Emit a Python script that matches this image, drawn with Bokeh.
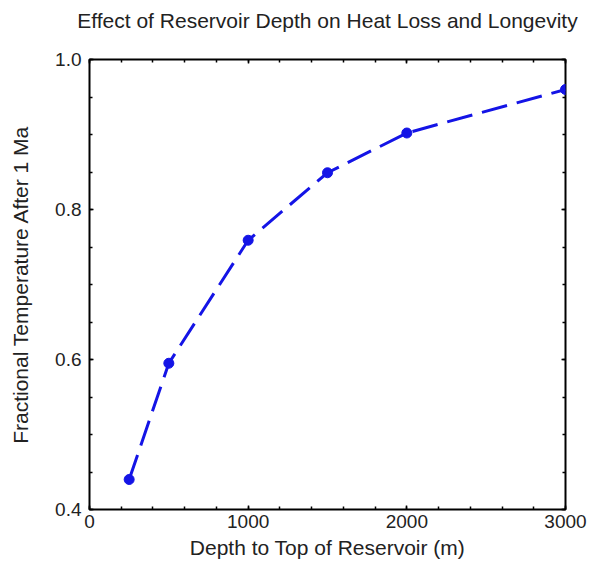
from bokeh.plotting import figure
from bokeh.models import LinearAxis, FixedTicker, Range1d, NumeralTickFormatter, CustomJSTickFormatter
from bokeh.embed import file_html
from bokeh.resources import INLINE

depth = [250, 500, 1000, 1500, 2000, 3000]
frac_temp = [0.44, 0.595, 0.759, 0.849, 0.902, 0.96]

x_major = [0, 1000, 2000, 3000]
x_minor = [200 * i for i in range(16)]
y_major = [0.4, 0.6, 0.8, 1.0]
y_minor = [round(0.4 + 0.05 * i, 2) for i in range(13)]

title_text = "Effect of Reservoir Depth on Heat Loss and Longevity"

FONT = "Liberation Sans"
BLUE = "#1414e6"

p = figure(width=589, height=571, output_backend="svg", toolbar_location=None,
           x_range=Range1d(0, 3000), y_range=Range1d(0.4, 1.0),
           x_axis_location=None, y_axis_location=None,
           min_border_left=89, min_border_right=24, min_border_top=59, min_border_bottom=62)

p.xgrid.visible = False
p.ygrid.visible = False
p.outline_line_color = "black"
p.outline_line_width = 2
p.outline_line_alpha = 1.0

def style(ax, ticks, minor, labels=True):
    ax.ticker = FixedTicker(ticks=ticks, minor_ticks=minor)
    ax.axis_line_color = None
    ax.major_tick_in = 4
    ax.major_tick_out = 0
    ax.minor_tick_in = 3
    ax.minor_tick_out = 0
    ax.major_tick_line_color = "black"
    ax.minor_tick_line_color = "black"
    ax.major_tick_line_width = 1.5
    ax.minor_tick_line_width = 1.5
    ax.major_label_text_font = FONT
    ax.axis_label_text_font = FONT
    ax.axis_label_text_font_style = "normal"
    ax.major_label_text_color = "#222222"
    ax.axis_label_text_color = "#222222"
    if labels:
        ax.major_label_text_font_size = "19px"
        ax.axis_label_text_font_size = "21px"
    else:
        ax.major_label_text_font_size = "0px"
        ax.major_label_standoff = 0
        ax.formatter = CustomJSTickFormatter(code="return ''")

xb = LinearAxis(axis_label="Depth to Top of Reservoir (m)")
style(xb, x_major, x_minor)
xb.major_label_standoff = 5
xb.axis_label_standoff = 5
p.add_layout(xb, "below")

yl = LinearAxis(axis_label="Fractional Temperature After 1 Ma")
style(yl, y_major, y_minor)
yl.formatter = NumeralTickFormatter(format="0.0")
yl.major_label_standoff = 8
yl.axis_label_standoff = 20
p.add_layout(yl, "left")

# top axis: inward ticks only; its axis label serves as the chart title
xt = LinearAxis(axis_label=title_text)
style(xt, x_major, x_minor, labels=False)
xt.axis_label_text_font_size = "21px"
xt.axis_label_standoff = 28
p.add_layout(xt, "above")

yr = LinearAxis()
style(yr, y_major, y_minor, labels=False)
p.add_layout(yr, "right")

p.line(depth, frac_temp, line_color=BLUE, line_width=3, line_dash="26 10")
p.scatter(depth, frac_temp, size=10, fill_color=BLUE, line_color=BLUE)

open("out.html", "w").write(file_html(p, INLINE))
